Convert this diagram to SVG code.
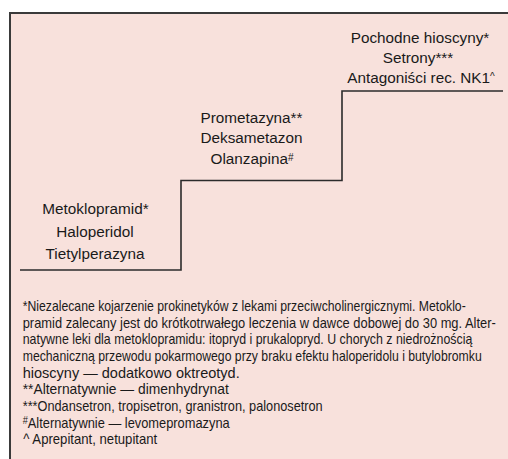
<svg xmlns="http://www.w3.org/2000/svg" width="508" height="459" viewBox="0 0 508 459">
<style>
.lbl{font-family:"Liberation Sans",Arial,sans-serif;font-size:15.3px;fill:#1a1a1a;text-anchor:middle}
.fn{font-family:"Liberation Sans",Arial,sans-serif;font-size:14px;fill:#1a1a1a}
.sup{font-size:10px;baseline-shift:35%}
.stair{fill:none;stroke:#2b2b2b;stroke-width:1.6}
</style>
<rect x="0" y="0" width="508" height="459" fill="#ffffff"/>
<rect id="frame" x="10" y="13" width="520" height="470" fill="#f8e1dc" stroke="#3a3a3a" stroke-width="2"/>
<g id="connectors">
<path class="stair" d="M20,270 H181 V180.5 H342 V91 H503"/>
</g>
<g id="step3">
<text class="lbl" x="420" y="43.3">Pochodne hioscyny*</text>
<text class="lbl" x="418" y="63">Setrony***</text>
<text class="lbl" x="421" y="82.7">Antagoniści rec. NK1<tspan class="sup">^</tspan></text>
</g>
<g id="step2">
<text class="lbl" x="251.5" y="122.7">Prometazyna**</text>
<text class="lbl" x="251.5" y="143.3">Deksametazon</text>
<text class="lbl" x="252" y="164">Olanzapina<tspan class="sup">#</tspan></text>
</g>
<g id="step1">
<text class="lbl" x="95.5" y="214">Metoklopramid*</text>
<text class="lbl" x="95" y="236.5">Haloperidol</text>
<text class="lbl" x="95" y="259">Tietylperazyna</text>
</g>
<g id="footnotes" transform="translate(22.7,0) scale(0.85,1)">
<text class="fn" x="0" y="311" textLength="521.2" lengthAdjust="spacingAndGlyphs">*Niezalecane kojarzenie prokinetyków z lekami przeciwcholinergicznymi. Metoklo-</text>
<text class="fn" x="0" y="327.7" textLength="556.5" lengthAdjust="spacingAndGlyphs">pramid zalecany jest do krótkotrwałego leczenia w dawce dobowej do 30 mg. Alter-</text>
<text class="fn" x="0" y="344.3" textLength="528.9" lengthAdjust="spacingAndGlyphs">natywne leki dla metoklopramidu: itopryd i prukalopryd. U chorych z niedrożnością</text>
<text class="fn" x="0" y="361" textLength="540" lengthAdjust="spacingAndGlyphs">mechaniczną przewodu pokarmowego przy braku efektu haloperidolu i butylobromku</text>
<text class="fn" x="0" y="377.7" textLength="255.3" lengthAdjust="spacingAndGlyphs">hioscyny — dodatkowo oktreotyd.</text>
<text class="fn" x="0" y="394.3" textLength="242.4" lengthAdjust="spacingAndGlyphs">**Alternatywnie — dimenhydrynat</text>
<text class="fn" x="0" y="411" textLength="352.9" lengthAdjust="spacingAndGlyphs">***Ondansetron, tropisetron, granistron, palonosetron</text>
<text class="fn" x="0" y="427.7" textLength="243.5" lengthAdjust="spacingAndGlyphs"><tspan class="sup">#</tspan>Alternatywnie — levomepromazyna</text>
<text class="fn" x="0.7" y="444.3" textLength="157.6" lengthAdjust="spacingAndGlyphs">^ Aprepitant, netupitant</text>
</g>
</svg>
